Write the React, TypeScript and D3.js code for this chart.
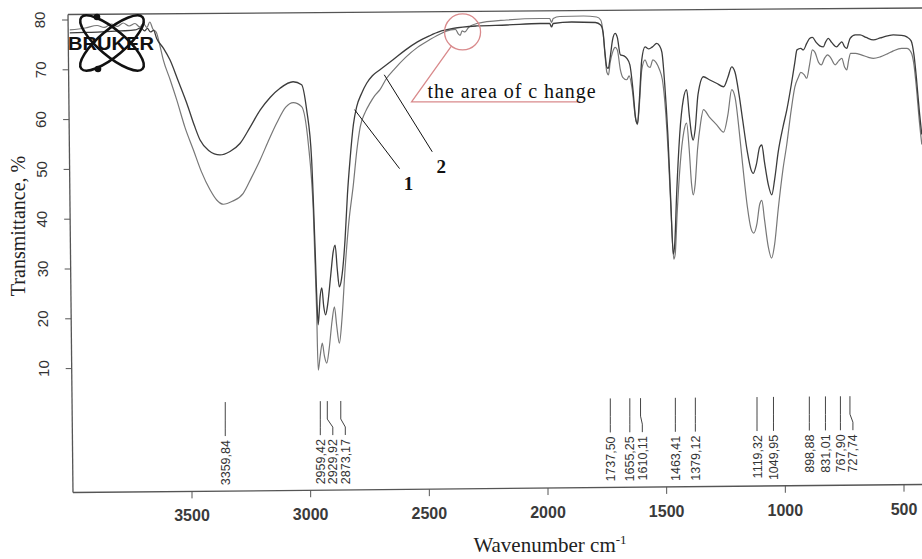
import React, { useEffect, useRef } from 'react';
import * as d3 from 'd3';

const width = 922;
const height = 559;

// trace 1 (upper in the O-H band, darker pen)
const wnA = [4015, 3950, 3880, 3800, 3740, 3715, 3700, 3688, 3675, 3662, 3649, 3620, 3593, 3560, 3522, 3490, 3466, 3430, 3382, 3340, 3298, 3255, 3213, 3170, 3129, 3074, 3038, 3017, 2996, 2982, 2972, 2968, 2960, 2953, 2945, 2937, 2928, 2915, 2905, 2897, 2888, 2879, 2870, 2855, 2845, 2834, 2820, 2806, 2785, 2764, 2740, 2708, 2653, 2600, 2550, 2500, 2455, 2400, 2300, 2174, 2033, 1993, 1985, 1978, 1900, 1800, 1778, 1768, 1760, 1752, 1746, 1738, 1728, 1717, 1708, 1695, 1680, 1668, 1655, 1642, 1630, 1623, 1615, 1605, 1591, 1575, 1560, 1542, 1530, 1520, 1508, 1495, 1483, 1472, 1466, 1458, 1445, 1430, 1416, 1405, 1395, 1388, 1380, 1368, 1345, 1320, 1290, 1260, 1242, 1226, 1212, 1195, 1180, 1160, 1145, 1135, 1122, 1108, 1099, 1088, 1072, 1057, 1045, 1030, 1010, 994, 975, 960, 951, 935, 924, 910, 898, 886, 870, 855, 840, 830, 819, 805, 784, 770, 762, 750, 741, 733, 727, 705, 685, 660, 629, 600, 570, 545, 510, 488, 470, 458, 447, 436, 425];
const tA = [77.4, 77.5, 77.6, 77.8, 78.0, 78.4, 77.8, 78.3, 77.6, 77.9, 76.3, 74.3, 72, 68, 63.3, 58.8, 55.9, 53.8, 52.9, 53.6, 55.2, 58.5, 61.9, 64.5, 66.3, 67.6, 67, 62, 52, 35, 21.8, 18.8, 24.5, 26.2, 22.5, 20.8, 23, 29, 33.5, 34.8, 30, 26.4, 28, 36, 45, 52, 59, 62.6, 65.3, 67.3, 68.8, 70, 72, 74, 75.6, 76.8, 77.7, 78.3, 78.8, 79, 79.3, 79.3, 78.6, 79.3, 79.6, 79.5, 79, 77.5, 73.5, 70.5, 70.3, 72.5, 76, 77.3, 76.5, 73, 72.8, 72.3, 71, 66, 60, 59.2, 64, 72, 74.6, 74.2, 74.6, 75.3, 74.8, 73.5, 67, 57, 44, 33, 35, 45, 57, 64, 66, 61, 57, 55.9, 58, 65, 68.6, 68, 67.3, 66.6, 68.5, 70.6, 69.5, 65, 60, 53.5, 50, 49.2, 51, 54.5, 54.9, 51.5, 47, 44.9, 48, 53.5, 58.5, 61.9, 67, 71.5, 74, 74.3, 74, 75.3, 76.3, 76.5, 75.5, 74.8, 74.6, 75.6, 76.3, 75.5, 74.6, 75.3, 75.6, 74.6, 74.3, 75.5, 76.3, 77, 77, 76.5, 76, 76.4, 76.8, 77, 76.9, 76.6, 75.8, 73, 68, 62, 57];

// trace 2 (lower in the O-H band, lighter pen)
const wnB = [4015, 3950, 3900, 3870, 3840, 3815, 3790, 3765, 3740, 3720, 3705, 3690, 3678, 3665, 3650, 3636, 3621, 3592, 3564, 3530, 3494, 3460, 3424, 3395, 3368, 3330, 3284, 3250, 3213, 3180, 3143, 3105, 3073, 3038, 3010, 2989, 2975, 2968, 2960, 2951, 2942, 2932, 2922, 2910, 2900, 2890, 2879, 2868, 2855, 2840, 2820, 2805, 2791, 2770, 2750, 2730, 2708, 2680, 2650, 2600, 2550, 2500, 2450, 2410, 2390, 2378, 2370, 2362, 2350, 2335, 2300, 2174, 2033, 1993, 1985, 1978, 1950, 1850, 1795, 1778, 1768, 1760, 1752, 1745, 1738, 1728, 1717, 1708, 1695, 1685, 1668, 1658, 1645, 1632, 1623, 1615, 1605, 1591, 1580, 1570, 1558, 1545, 1530, 1518, 1505, 1492, 1480, 1470, 1464, 1456, 1443, 1428, 1416, 1405, 1395, 1388, 1380, 1370, 1358, 1345, 1320, 1290, 1260, 1242, 1226, 1212, 1195, 1180, 1160, 1145, 1133, 1120, 1108, 1099, 1088, 1072, 1058, 1045, 1030, 1010, 994, 975, 960, 945, 935, 920, 910, 898, 886, 875, 860, 848, 835, 822, 810, 790, 775, 762, 750, 741, 733, 725, 705, 680, 650, 629, 600, 570, 545, 510, 488, 470, 458, 447, 436, 425];
const tB = [78.0, 78.4, 78.9, 78.5, 79.2, 78.7, 79.4, 78.8, 79.3, 78.6, 79.3, 78.5, 79.6, 78.2, 77.5, 75, 72, 68, 63.9, 58.5, 53.9, 49.5, 45.9, 43.8, 43, 43.6, 45.2, 48.3, 51.9, 55.5, 59.3, 62.5, 63.4, 62.6, 55.2, 41.8, 21.8, 9.7, 12.5, 15.1, 12.5, 11.1, 14, 19.5, 22.4, 18.5, 15.1, 20, 30, 39, 47, 54, 58.6, 61.5, 63.3, 64.8, 66, 68.3, 70, 72.5, 74.5, 76, 77.3, 78, 78.1, 77.2, 76.9, 77.8, 77.6, 78.5, 79.3, 80, 80.3, 80.3, 79.5, 80.3, 80.7, 80.8, 80.6, 80, 77.5, 73, 69.5, 69, 71.5, 73.5, 74.5, 74, 70, 68.5, 68, 68.8, 66, 60.5, 59, 63, 70, 72, 70.8, 70.5, 72, 71.5, 70, 68, 62, 52, 40, 32, 33, 41, 51, 57.5, 59.3, 54, 47, 44.9, 47, 54, 59, 62, 60.5, 59, 57.5, 61, 66, 64.5, 58, 51, 42.5, 38.2, 37.2, 39, 43, 43.8, 40, 34.5, 32.2, 35, 42, 50, 55, 62, 66.5, 68.5, 69.5, 69, 68.3, 71, 74, 73.5, 71.5, 71, 72.3, 73, 72.5, 71, 71.8, 72.3, 70.5, 70, 72, 73.3, 73.3, 73, 72.5, 72.3, 72.6, 73.2, 73.8, 74.3, 74.3, 73.5, 71, 66, 60, 55];

const xTicks = [3500, 3000, 2500, 2000, 1500, 1000, 500];
const yTicks = [10, 20, 30, 40, 50, 60, 70, 80];

const peakWn = [3359.84, 2959.42, 2929.92, 2873.17, 1737.5, 1655.25, 1610.11, 1463.41, 1379.12, 1119.32, 1049.95, 898.88, 831.01, 767.9, 727.74];
const peakLabels = ['3359,84', '2959,42', '2929,92', '2873,17', '1737,50', '1655,25', '1610,11', '1463,41', '1379,12', '1119,32', '1049,95', '898,88', '831,01', '767,90', '727,74'];

// where the "1" / "2" leaders touch the traces, and the circled spot
const traceMarkWn = [2815, 2690];
const traceMarkT = [62, 69];
const traceMarkText = ['1', '2'];
const changeWn = 2360;
const changeT = 77.6;

export default function App() {
  const ref = useRef<SVGSVGElement>(null);

  useEffect(() => {
    const svg = d3.select(ref.current);
    svg.selectAll('*').remove();
    svg.attr('viewBox', [0, 0, width, height]).style('background', '#fff');

    const x = d3.scaleLinear().domain([3500, 500]).range([192, 904]);
    const y = d3.scaleLinear().domain([80, 10]).range([20, 368.6]);

    // the scan is a little tilted, so the frame is too
    const leftX = (py: number) => 68 + (py - 14.5) * 5 / 478;
    const bottomY = (px: number) => 492.5 - (px - 73) * 8 / 849;
    const frame = '#555';

    svg.append('line').attr('x1', 68).attr('y1', 14.5).attr('x2', 922).attr('y2', 8)
      .attr('stroke', frame).attr('stroke-width', 1.3);
    svg.append('line').attr('x1', 68).attr('y1', 14.5).attr('x2', 73).attr('y2', 492.5)
      .attr('stroke', frame).attr('stroke-width', 1.3);
    svg.append('line').attr('x1', 73).attr('y1', 492.5).attr('x2', 922).attr('y2', bottomY(922))
      .attr('stroke', frame).attr('stroke-width', 1.3);

    //----------- y axis --------------------------//
    const yAxis = svg.append('g');
    yTicks.forEach(v => {
      const py = y(v);
      const ax = leftX(py);
      yAxis.append('line').attr('x1', ax - 6).attr('x2', ax).attr('y1', py).attr('y2', py)
        .attr('stroke', frame).attr('stroke-width', 1);
      yAxis.append('text')
        .attr('transform', `translate(${ax - 23},${py}) rotate(-90)`)
        .attr('text-anchor', 'middle')
        .style('font-family', '"Liberation Sans", Arial, sans-serif')
        .style('font-size', '15px')
        .attr('fill', '#333')
        .text(v);
    });
    svg.append('text')
      .attr('transform', 'translate(25,226) rotate(-90)')
      .attr('text-anchor', 'middle')
      .style('font-family', '"Liberation Serif", "Times New Roman", serif')
      .style('font-size', '20px')
      .attr('fill', '#222')
      .text('Transmittance, %');

    //----------- x axis --------------------------//
    const xAxis = svg.append('g');
    xTicks.forEach(w => {
      const px = x(w);
      const by = bottomY(px);
      xAxis.append('line').attr('x1', px).attr('x2', px).attr('y1', by).attr('y2', by + 7)
        .attr('stroke', frame).attr('stroke-width', 1);
      xAxis.append('text')
        .attr('x', px).attr('y', by + 30)
        .attr('text-anchor', 'middle')
        .style('font-family', '"Liberation Sans", Arial, sans-serif')
        .style('font-size', '16px')
        .style('font-weight', 'bold')
        .attr('fill', '#3a3a3a')
        .text(w);
    });
    const xTitle = svg.append('text')
      .attr('x', 550).attr('y', 552)
      .attr('text-anchor', 'middle')
      .style('font-family', '"Liberation Serif", "Times New Roman", serif')
      .style('font-size', '21px')
      .attr('fill', '#222');
    xTitle.append('tspan').text('Wavenumber cm');
    xTitle.append('tspan').attr('dy', -8).style('font-size', '13px').text('-1');

    //----------- peak table --------------------------//
    const peaks = svg.append('g');
    let lastLabelX = -Infinity;
    peakWn.forEach((w, i) => {
      const px = x(w);
      const lx = Math.max(px, lastLabelX + 12.5);
      lastLabelX = lx;
      const by = bottomY(px);
      const top = by - 89;
      const bend1 = by - 71;
      const bend2 = by - 63;
      const bottom = by - 55;
      peaks.append('path')
        .attr('d', `M${px},${top}L${px},${bend1}L${lx},${bend2}L${lx},${bottom}`)
        .attr('fill', 'none').attr('stroke', '#444').attr('stroke-width', 1);
      peaks.append('text')
        .attr('transform', `translate(${lx + 4.5},${by - 51}) rotate(-90)`)
        .attr('text-anchor', 'end')
        .style('font-family', '"Liberation Sans", Arial, sans-serif')
        .style('font-size', '12.5px')
        .attr('fill', '#333')
        .text(peakLabels[i]);
    });

    //----------- traces --------------------------//
    const line = d3.line<number>()
      .curve(d3.curveMonotoneX);
    const drawTrace = (wn: number[], t: number[], color: string, sw: number) => {
      svg.append('path')
        .datum(wn.map((w, i) => i))
        .attr('d', line.x(i => x(wn[i])).y(i => y(t[i])))
        .attr('fill', 'none')
        .attr('stroke', color)
        .attr('stroke-width', sw)
        .attr('stroke-linejoin', 'round');
    };
    drawTrace(wnB, tB, '#777', 1.2);
    drawTrace(wnA, tA, '#3c3c3c', 1.3);

    //----------- annotations --------------------------//
    traceMarkWn.forEach((w, i) => {
      const px = x(w);
      const py = y(traceMarkT[i]);
      const dx = i === 0 ? 45 : 48;
      const dy = i === 0 ? 59 : 77;
      svg.append('line').attr('x1', px).attr('y1', py).attr('x2', px + dx).attr('y2', py + dy)
        .attr('stroke', '#111').attr('stroke-width', 1);
      svg.append('text')
        .attr('x', px + dx + 9).attr('y', py + dy + 21)
        .attr('text-anchor', 'middle')
        .style('font-family', '"Liberation Serif", "Times New Roman", serif')
        .style('font-size', '19px')
        .style('font-weight', 'bold')
        .attr('fill', '#111')
        .text(traceMarkText[i]);
    });

    const cx = x(changeWn);
    const cy = y(changeT);
    const red = '#d98a8c';
    svg.append('circle').attr('cx', cx).attr('cy', cy).attr('r', 18)
      .attr('fill', 'none').attr('stroke', red).attr('stroke-width', 1.3);
    svg.append('path')
      .attr('d', `M${cx - 11},${cy + 14}L${cx - 51},${cy + 70}L${cx + 118},${cy + 70}`)
      .attr('fill', 'none').attr('stroke', red).attr('stroke-width', 1.3);
    svg.append('text')
      .attr('x', cx - 35).attr('y', cy + 66)
      .attr('textLength', 168)
      .style('font-family', '"Liberation Serif", "Times New Roman", serif')
      .style('font-size', '20px')
      .attr('fill', '#111')
      .text('the area of c hange');

    //----------- Bruker logo --------------------------//
    const logo = svg.append('g').attr('transform', 'translate(112,43)');
    [-40, 40].forEach(a => {
      logo.append('ellipse').attr('rx', 40).attr('ry', 13)
        .attr('transform', `rotate(${a})`)
        .attr('fill', 'none').attr('stroke', '#111').attr('stroke-width', 2.6);
    });
    logo.append('circle').attr('cx', -15).attr('cy', -26).attr('r', 3.3).attr('fill', '#111');
    logo.append('circle').attr('cx', -14).attr('cy', 26).attr('r', 3.3).attr('fill', '#111');
    logo.append('text')
      .attr('x', -44).attr('y', 7)
      .attr('textLength', 86)
      .attr('lengthAdjust', 'spacingAndGlyphs')
      .style('font-family', '"Liberation Sans", Arial, sans-serif')
      .style('font-size', '18px')
      .style('font-weight', 'bold')
      .attr('fill', '#111')
      .text('BRUKER');
  }, []);

  return (
    <svg ref={ref} width={width} height={height}
      style={{ position: 'absolute', left: 0, top: 0, display: 'block' }} />
  );
}
